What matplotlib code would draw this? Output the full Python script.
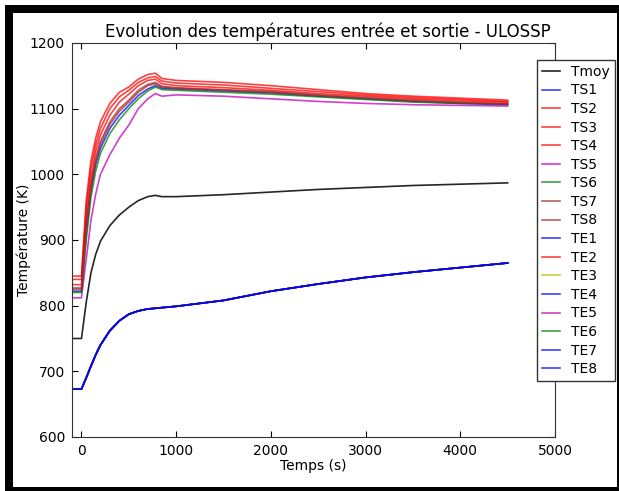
import matplotlib
matplotlib.use("Agg")
import matplotlib.pyplot as plt
from matplotlib.patches import Rectangle

# temps (s)
t = [-100, 0, 50, 100, 150, 200, 300, 400, 500, 600, 700, 780, 850, 1000, 1500, 2000, 2500, 3000, 3500, 4000, 4500]

tmoy = [750, 750, 805, 850, 878, 898, 922, 938, 950, 960, 966, 968, 966, 966, 969, 973, 977, 980, 983, 985, 987]

ts1 = [822, 822, 910, 975, 1015, 1040, 1070, 1090, 1105, 1120, 1130, 1135, 1131, 1130, 1127, 1124, 1119, 1115, 1111, 1108, 1106]
ts2 = [845, 845, 960, 1020, 1055, 1080, 1108, 1125, 1133, 1145, 1152, 1154, 1146, 1143, 1140, 1135, 1129, 1123, 1119, 1116, 1113]
ts3 = [840, 840, 950, 1010, 1045, 1070, 1100, 1118, 1128, 1140, 1147, 1149, 1142, 1139, 1136, 1131, 1126, 1121, 1117, 1114, 1111]
ts4 = [832, 832, 935, 995, 1035, 1060, 1090, 1110, 1122, 1135, 1143, 1145, 1138, 1135, 1132, 1128, 1123, 1119, 1115, 1112, 1110]
ts5 = [812, 812, 870, 930, 970, 1000, 1030, 1055, 1075, 1100, 1115, 1123, 1119, 1121, 1119, 1115, 1111, 1108, 1106, 1105, 1104]
ts6 = [820, 820, 900, 965, 1005, 1032, 1062, 1083, 1100, 1115, 1127, 1133, 1129, 1128, 1125, 1122, 1118, 1114, 1110, 1108, 1107]
ts7 = [827, 827, 925, 985, 1025, 1050, 1080, 1100, 1113, 1128, 1137, 1140, 1134, 1132, 1129, 1126, 1121, 1117, 1113, 1110, 1108]
ts8 = [825, 825, 920, 980, 1020, 1046, 1076, 1096, 1110, 1125, 1135, 1138, 1133, 1131, 1128, 1125, 1120, 1116, 1112, 1109, 1107]

te = [673, 673, 690, 708, 725, 740, 762, 777, 787, 792, 795, 796, 797, 799, 808, 822, 833, 843, 851, 858, 865]

labels = ["Tmoy", "TS1", "TS2", "TS3", "TS4", "TS5", "TS6", "TS7", "TS8",
          "TE1", "TE2", "TE3", "TE4", "TE5", "TE6", "TE7", "TE8"]
series = [tmoy, ts1, ts2, ts3, ts4, ts5, ts6, ts7, ts8,
          te, te, te, te, te, te, te, te]
colors = ["k", "b", "r", "r", "r", "m", "g", "brown", "brown",
          "b", "r", "y", "b", "m", "g", "b", "b"]

fig = plt.figure(figsize=(6.19, 4.91), dpi=100)
# cadre noir de la capture
fig.patches.append(Rectangle((5 / 619, 0), 1, 1 - 5 / 491, transform=fig.transFigure,
                             facecolor="black", edgecolor="none", zorder=-2))
fig.patches.append(Rectangle((13 / 619, 4 / 491), (617 - 13) / 619, (487 - 13) / 491,
                             transform=fig.transFigure, facecolor="white",
                             edgecolor="none", zorder=-1))

ax = fig.add_axes([72 / 619, 54 / 491, 483 / 619, 394 / 491])
for y, c, lab in zip(series, colors, labels):
    ax.plot(t, y, color=c, alpha=0.75 if c != "k" else 0.85, lw=1.2, label=lab)

ax.set_xlim(-100, 5000)
ax.set_ylim(600, 1200)
ax.set_xticks([0, 1000, 2000, 3000, 4000, 5000])
ax.set_yticks(range(600, 1201, 100))
ax.tick_params(direction="in", top=True, right=True, labelsize=10, length=4, pad=5)
for s in ax.spines.values():
    s.set_color("#333333")
ax.set_xlabel("Temps (s)", fontsize=10)
ax.set_ylabel("Température (K)", fontsize=10)
ax.xaxis.set_label_coords(0.5, -0.055)
ax.yaxis.set_label_coords(-0.085, 0.5)
ax.set_title("Evolution des températures entrée et sortie - ULOSSP", fontsize=12,
             x=0.53, pad=4)

leg = ax.legend(loc="upper left", bbox_to_anchor=(0.963, 0.957), fontsize=10,
                handlelength=1.3, labelspacing=0.33, borderaxespad=0,
                borderpad=0.35, handletextpad=0.8,
                fancybox=False, framealpha=1)
leg.get_frame().set_edgecolor("#333333")

fig.savefig("out.png", dpi=100)
